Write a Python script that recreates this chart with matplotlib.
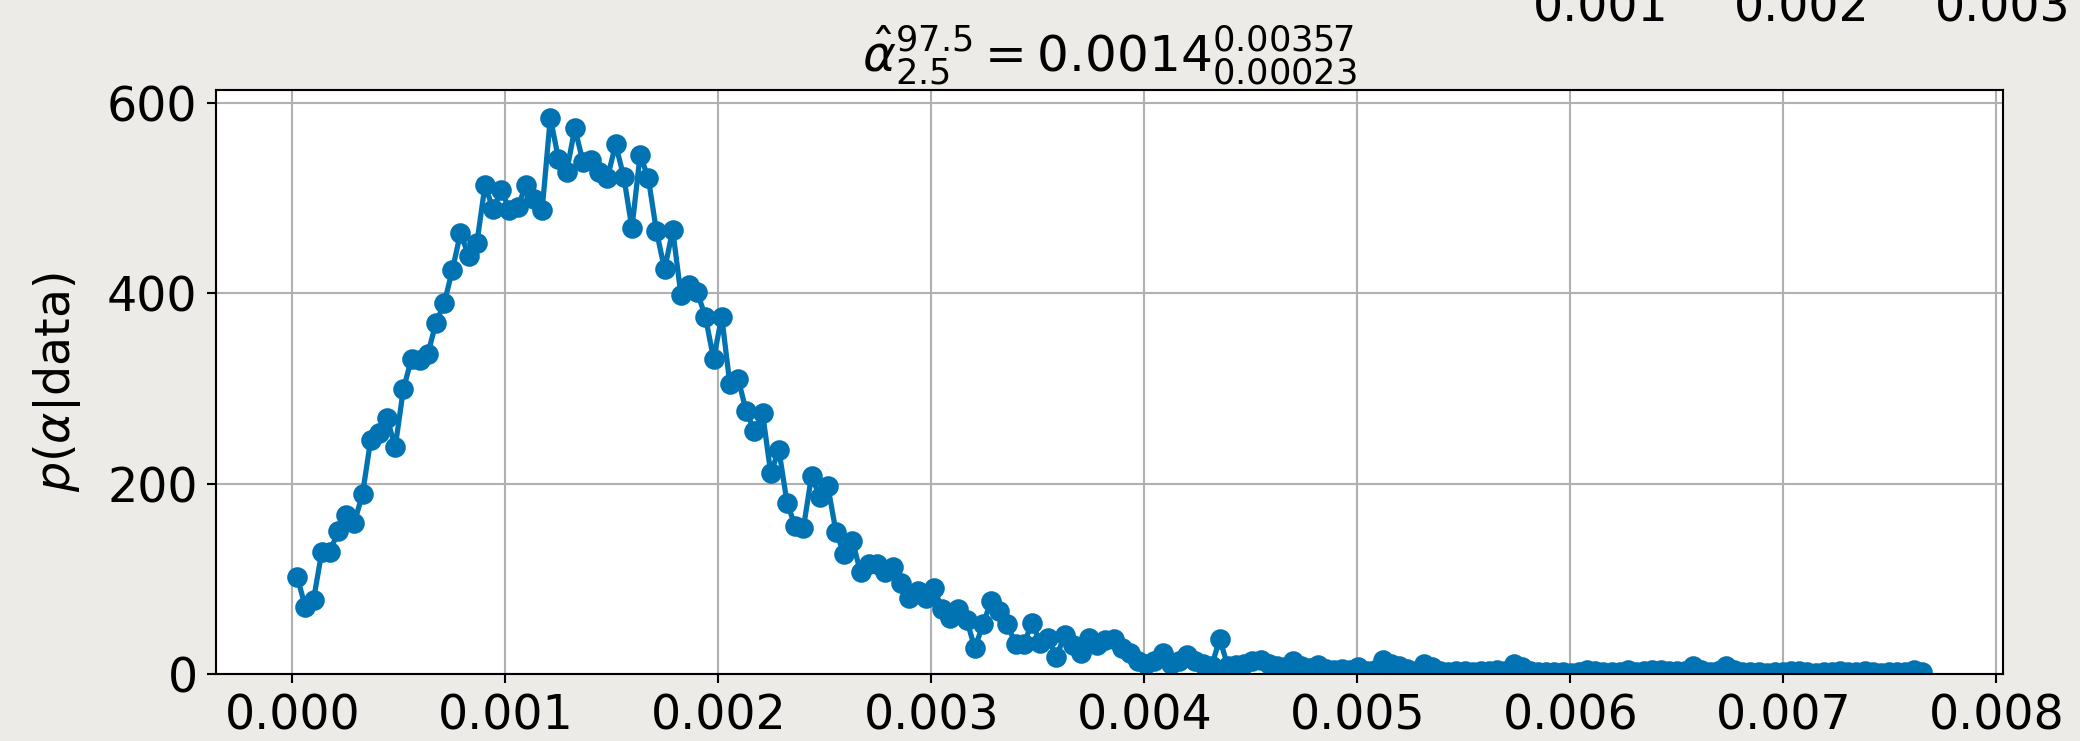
import numpy as np
import matplotlib
matplotlib.use("Agg")
import matplotlib.pyplot as plt

# posterior histogram of alpha: 200 equal-width bins, first and last bin centre
alpha_first = 0.0000234
alpha_last = 0.00765
n_bins = 200

density = [
    102, 70, 78, 128, 128, 150, 167, 159, 189, 246,
    253, 269, 238, 299, 331, 330, 336, 369, 389, 424,
    463, 439, 452, 513, 488, 508, 487, 490, 513, 499,
    487, 584, 541, 527, 573, 538, 540, 527, 521, 556,
    522, 468, 545, 521, 465, 425, 466, 398, 408, 401,
    375, 331, 375, 304, 310, 276, 255, 274, 211, 235,
    180, 155, 153, 208, 186, 197, 149, 126, 140, 107,
    116, 116, 107, 112, 96, 80, 87, 80, 90, 68,
    59, 68, 57, 27, 52, 77, 66, 52, 31, 31,
    54, 33, 38, 18, 41, 30, 22, 38, 30, 36,
    37, 27, 22, 14, 11, 14, 22, 10, 14, 20,
    14, 11, 8, 37, 8, 9, 10, 14, 15, 10,
    8, 7, 14, 8, 6, 9, 5, 4, 5, 4,
    7, 3, 4, 15, 10, 8, 5, 3, 10, 7,
    3, 2, 3, 3, 2, 3, 3, 4, 3, 10,
    7, 3, 2, 2, 2, 2, 1, 2, 4, 3,
    2, 2, 2, 4, 2, 3, 4, 4, 3, 3,
    3, 8, 4, 2, 3, 8, 4, 2, 2, 2,
    1, 2, 2, 3, 3, 2, 1, 2, 2, 3,
    2, 2, 3, 2, 1, 2, 2, 2, 4, 2,
]
alpha = np.linspace(alpha_first, alpha_last, n_bins)

title = r"$\hat{\alpha}^{97.5}_{2.5} = 0.0014^{0.00357}_{0.00023}$"
ylabel = r"$p(\alpha|\mathrm{data})$"
# tick labels of the panel above, cut off by the top edge
upper_tick_labels = ["0.001", "0.002", "0.003"]
upper_tick_x = [1601, 1802, 2003]

plt.rcParams["font.size"] = 18
plt.rcParams["mathtext.fontset"] = "dejavusans"

W, H = 2080, 741
fig = plt.figure(figsize=(W / 190, H / 190), dpi=190, facecolor="#ecebe7")
ax = fig.add_axes([216 / W, 1 - 674 / H, (2003 - 216) / W, (674 - 90) / H])
ax.set_facecolor("white")

ax.plot(alpha, density, "-o", color="#0173b2", lw=2, ms=6.8)
ax.set_ylim(bottom=0)
ax.set_xticks(np.arange(0, 0.0081, 0.001))
ax.set_yticks([0, 200, 400, 600])
ax.grid(True, color="#b0b0b0", lw=0.8)
ax.set_axisbelow(True)
ax.set_ylabel(ylabel, labelpad=9)
ax.set_title(title, fontsize=19, pad=7)

for lab, px in zip(upper_tick_labels, upper_tick_x):
    fig.text(px / W, 1 - 22 / H, lab, ha="center", va="baseline", fontsize=18)

fig.savefig("out.png", dpi=190, facecolor=fig.get_facecolor())
